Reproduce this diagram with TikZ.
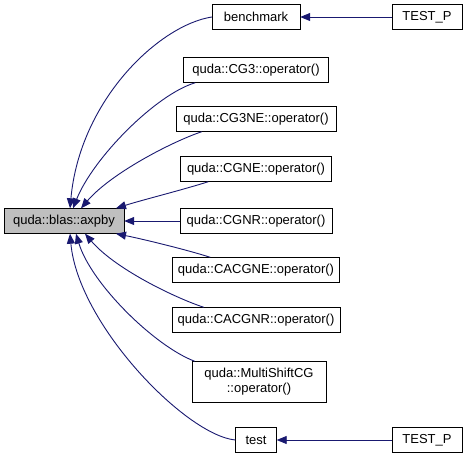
\documentclass[tikz,border=0pt]{standalone}
\usepackage{fontspec}
\setmainfont{Liberation Sans}
\usetikzlibrary{arrows.meta}
\definecolor{edgeblue}{HTML}{191970}
\tikzset{
  fn/.style={draw,fill=white,minimum height=25,inner sep=2pt,font=\fontsize{13}{15}\selectfont},
  call/.style={edgeblue,line width=0.9pt,-{Triangle[length=10pt,width=8pt]}}
}
\begin{document}
\begin{tikzpicture}[x=1pt,y=-1pt]
\useasboundingbox (0,0) rectangle (468,459);
\node[fn,fill=gray!50,minimum width=120] (axpby) at (64,221) {quda::blas::axpby};
\foreach \n/\txt/\y/\w in {benchmark/benchmark/17/88, cg3/quda::CG3::operator()/70/145,
    cg3ne/quda::CG3NE::operator()/119/160, cgne/quda::CGNE::operator()/169/151,
    cgnr/quda::CGNR::operator()/221/152, cacgne/quda::CACGNE::operator()/270/167,
    cacgnr/quda::CACGNR::operator()/320/168, test/test/440/41}
  \node[fn,minimum width=\w] (\n) at (256,\y) {\txt};
\node[fn,align=center,minimum width=134,minimum height=41] (multishift) at (259,382)
  {quda::MultiShiftCG\\::operator()};
\node[fn,minimum width=70] (testpa) at (427,17) {TEST\_P};
\node[fn,minimum width=70] (testpb) at (427,440) {TEST\_P};
% callers of axpby
\draw[call] (testpa) -- (benchmark);
\draw[call] (testpb) -- (test);
\draw[call] (benchmark.west) .. controls +(-52,8) and +(10,-109) .. ([xshift=6pt]axpby.north);
\draw[call] ([xshift=12pt]cg3.south west) .. controls +(-40,12) and +(20,-50) .. ([xshift=9pt]axpby.north);
\draw[call] ([xshift=26pt]cg3ne.south west) .. controls +(-30,10) and +(30,-35) .. ([xshift=17pt]axpby.north);
\draw[call] ([xshift=28pt]cgne.south west) .. controls +(-25,8) and +(25,-8) .. ([xshift=52pt]axpby.north);
\draw[call] (cgnr) -- (axpby);
\draw[call] ([xshift=38pt]cacgne.north west) .. controls +(-25,-8) and +(25,5) .. ([xshift=52pt]axpby.south);
\draw[call] ([xshift=32pt]cacgnr.north west) .. controls +(-30,-10) and +(30,35) .. ([xshift=21pt]axpby.south);
\draw[call] ([xshift=3pt]multishift.north west) .. controls +(-40,-15) and +(15,50) .. ([xshift=12pt]axpby.south);
\draw[call] (test.west) .. controls +(-50,-5) and +(8,90) .. ([xshift=6pt]axpby.south);
\end{tikzpicture}
\end{document}
